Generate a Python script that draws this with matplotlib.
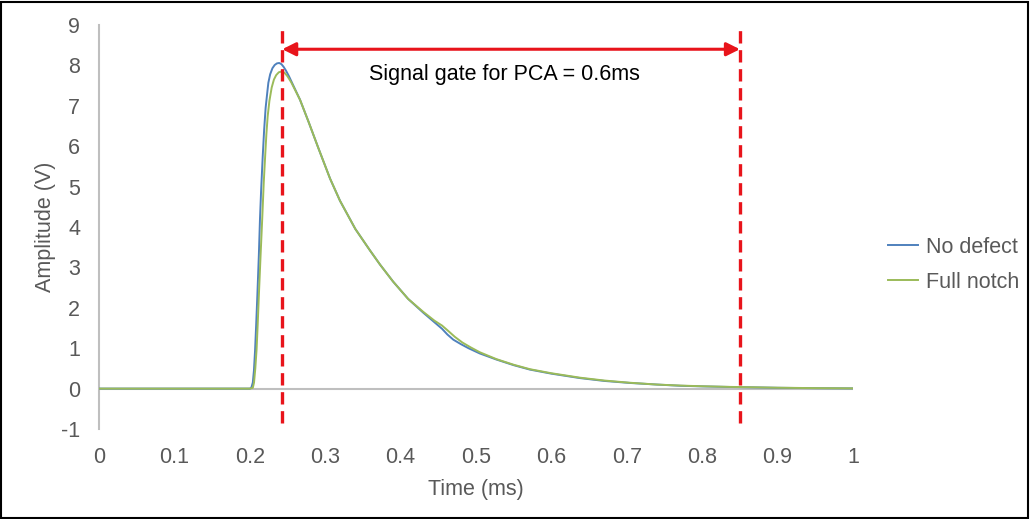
import matplotlib
matplotlib.use("Agg")
import matplotlib.pyplot as plt
from matplotlib.patches import Rectangle

plt.rcParams['font.family'] = ['Liberation Sans', 'DejaVu Sans']
plt.rcParams['axes.unicode_minus'] = False

# ---- data ----
t_no_defect = [0, 0.1, 0.2, 0.202, 0.204, 0.2055, 0.207, 0.2085, 0.210, 0.212, 0.2135,
               0.215, 0.217, 0.219, 0.221, 0.223, 0.2246, 0.227, 0.230, 0.233, 0.236,
               0.239, 0.242, 0.245, 0.248, 0.252, 0.257, 0.2666, 0.278, 0.291, 0.3064,
               0.3196, 0.34, 0.3594, 0.3727, 0.39, 0.41, 0.43, 0.445, 0.455, 0.462,
               0.47, 0.48, 0.49, 0.505, 0.527, 0.55, 0.5716, 0.60, 0.638, 0.67,
               0.704, 0.74, 0.771, 0.80, 0.837, 0.87, 0.9, 0.95, 1.0]
v_no_defect = [0, 0, 0, 0.02, 0.15, 0.45, 0.95, 1.6, 2.3, 3.3, 4.2,
               4.9, 5.7, 6.4, 6.95, 7.3, 7.57, 7.78, 7.93, 8.01, 8.05,
               8.06, 8.03, 7.96, 7.87, 7.73, 7.53, 7.15, 6.6, 5.95, 5.2,
               4.65, 3.95, 3.42, 3.07, 2.65, 2.22, 1.88, 1.64, 1.48, 1.34,
               1.21, 1.10, 1.0, 0.87, 0.72, 0.58, 0.47, 0.37, 0.26, 0.19,
               0.14, 0.10, 0.07, 0.055, 0.04, 0.03, 0.02, 0.01, 0.005]

t_full_notch = [0, 0.1, 0.2, 0.204, 0.2056, 0.2073, 0.209, 0.2105, 0.212, 0.2143, 0.2166,
                0.2185, 0.2205, 0.222, 0.2237, 0.226, 0.229, 0.232, 0.235, 0.2385, 0.2423,
                0.246, 0.250, 0.255, 0.2666, 0.278, 0.291, 0.3064, 0.3196, 0.34, 0.3594,
                0.3727, 0.39, 0.41, 0.43, 0.445, 0.455, 0.463, 0.472, 0.482, 0.493,
                0.505, 0.527, 0.55, 0.5716, 0.60, 0.638, 0.67, 0.704, 0.74, 0.771,
                0.80, 0.837, 0.87, 0.9, 0.95, 1.0]
v_full_notch = [0, 0, 0, 0.02, 0.15, 0.5, 0.97, 1.6, 2.3, 3.3, 4.26,
                5.1, 5.8, 6.3, 6.74, 7.12, 7.45, 7.65, 7.76, 7.83, 7.85,
                7.82, 7.73, 7.58, 7.15, 6.6, 5.95, 5.2, 4.65, 3.95, 3.42,
                3.07, 2.65, 2.22, 1.9, 1.68, 1.56, 1.43, 1.28, 1.14, 1.02,
                0.9, 0.73, 0.59, 0.48, 0.38, 0.27, 0.20, 0.145, 0.10, 0.075,
                0.058, 0.042, 0.032, 0.022, 0.012, 0.006]

gate_start = 0.243
gate_end = 0.85
gate_label = "Signal gate for PCA = 0.6ms"

x_ticks = [0, 0.1, 0.2, 0.3, 0.4, 0.5, 0.6, 0.7, 0.8, 0.9, 1]
x_ticklabels = ["0", "0.1", "0.2", "0.3", "0.4", "0.5", "0.6", "0.7", "0.8", "0.9", "1"]
y_ticks = list(range(-1, 10))

# ---- figure ----
W, H = 1030, 519
FS = 15.5
fig = plt.figure(figsize=(W / 100, H / 100), dpi=100)
ax = fig.add_axes([99 / W, 1 - 429 / H, (853 - 99) / W, (429 - 25) / H])

gray_text = "#595959"
axis_gray = "#BFBFBF"

ax.axhline(0, color=axis_gray, lw=1.5, zorder=1)
ax.plot(t_no_defect, v_no_defect, color="#4F81BD", lw=1.4, label="No defect", zorder=3)
ax.plot(t_full_notch, v_full_notch, color="#9BBB59", lw=1.4, label="Full notch", zorder=4)

for xg in (gate_start, gate_end):
    ax.plot([xg, xg], [-0.85, 8.98], color="#E8141B", lw=2.4,
            linestyle=(0, (3.7, 2.0)), zorder=5, clip_on=False)

ax.annotate("", xy=(gate_start, 8.4), xytext=(gate_end, 8.4),
            arrowprops=dict(arrowstyle="<|-|>", color="#E8141B", lw=2.2,
                            shrinkA=0, shrinkB=0, mutation_scale=20), zorder=6)
ax.text(0.538, 7.78, gate_label, ha="center", va="center", fontsize=FS, color="black")

ax.set_xlim(0, 1)
ax.set_ylim(-1, 9)
ax.set_xticks(x_ticks)
ax.set_xticklabels(x_ticklabels)
ax.set_yticks(y_ticks)
for s in ("top", "right", "bottom"):
    ax.spines[s].set_visible(False)
ax.spines["left"].set_color(axis_gray)
ax.spines["left"].set_linewidth(1.5)
ax.tick_params(axis="both", length=0, labelsize=FS, colors=gray_text)
ax.tick_params(axis="x", pad=13)
ax.tick_params(axis="y", pad=13.5)
ax.set_xlabel("Time (ms)", fontsize=FS, color=gray_text, labelpad=8)
ax.set_ylabel("Amplitude (V)", fontsize=FS, color=gray_text, labelpad=4)

leg = fig.legend(loc="upper left", bbox_to_anchor=(879 / W, 1 - 228 / H),
                 frameon=False, fontsize=FS, handlelength=1.4, handletextpad=0.37,
                 labelspacing=0.66, borderaxespad=0)
for txt in leg.get_texts():
    txt.set_color(gray_text)

fig.patches.append(Rectangle((1 / W, 1 / H), (W - 3) / W, (H - 3) / H,
                             transform=fig.transFigure, fill=False,
                             edgecolor="black", lw=1.5))

fig.savefig("out.png", dpi=100)
